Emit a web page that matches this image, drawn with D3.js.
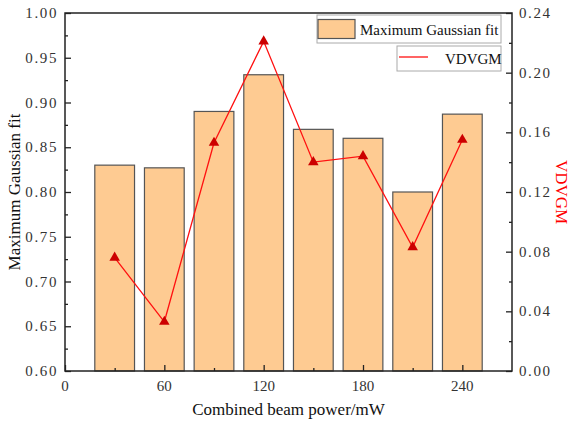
<!DOCTYPE html>
<html>
<head>
<meta charset="utf-8">
<script src="https://cdn.jsdelivr.net/npm/d3@7"></script>
<style>
  body { margin: 0; background: #fff; }
</style>
</head>
<body>
<svg id="chart" width="570" height="422"></svg>
<script>
// data
const power = [30, 60, 90, 120, 150, 180, 210, 240];
const gaussFit = [0.830, 0.827, 0.890, 0.931, 0.870, 0.860, 0.800, 0.887];
const vdvgm = [0.076, 0.033, 0.153, 0.221, 0.140, 0.144, 0.083, 0.155];
const xTicks = [0, 60, 120, 180, 240];
const leftTicks = [0.60, 0.65, 0.70, 0.75, 0.80, 0.85, 0.90, 0.95, 1.00];
const rightTicks = [0.00, 0.04, 0.08, 0.12, 0.16, 0.20, 0.24];

const svg = d3.select("#chart");
const serif = '"Liberation Serif", "Times New Roman", serif';
const pLeft = 65, pRight = 512, pTop = 13, pBottom = 371;
const barW = 24;
const barFill = "#fecb92", barStroke = "#555";

const x = d3.scaleLinear().domain([0, 270]).range([pLeft, pRight]);
const yL = d3.scaleLinear().domain([0.6, 1.0]).range([pBottom, pTop]);
const yR = d3.scaleLinear().domain([0, 0.24]).range([pBottom, pTop]);

// bars
svg.append("g")
  .selectAll("rect")
  .data(power)
  .join("rect")
  .attr("x", (d) => x(d - barW / 2))
  .attr("y", (d, i) => yL(gaussFit[i]))
  .attr("width", (d) => x(d + barW / 2) - x(d - barW / 2))
  .attr("height", (d, i) => pBottom - yL(gaussFit[i]))
  .attr("fill", barFill)
  .attr("stroke", barStroke)
  .attr("stroke-width", 1.2);

// axes (ticks point inward)
const fmt = d3.format(".2f");
const tickStyle = (g) => {
  g.select(".domain").remove();
  g.selectAll("line").attr("stroke", "#222").attr("stroke-width", 1.3);
};

// minor ticks
svg.append("g")
  .attr("transform", `translate(${pLeft},0)`)
  .call(d3.axisRight(yL).tickValues(d3.range(0.625, 1.0, 0.05)).tickSize(3).tickFormat(""))
  .call(tickStyle);
svg.append("g")
  .attr("transform", `translate(${pRight},0)`)
  .call(d3.axisLeft(yR).tickValues(d3.range(0.02, 0.24, 0.04)).tickSize(3).tickFormat(""))
  .call(tickStyle);
svg.append("g")
  .attr("transform", `translate(0,${pBottom})`)
  .call(d3.axisTop(x).tickValues([30, 90, 150, 210]).tickSize(3).tickFormat(""))
  .call(tickStyle);

// major ticks
svg.append("g")
  .attr("transform", `translate(${pLeft},0)`)
  .call(d3.axisRight(yL).tickValues(leftTicks).tickSize(6).tickFormat(""))
  .call(tickStyle);
svg.append("g")
  .attr("transform", `translate(${pRight},0)`)
  .call(d3.axisLeft(yR).tickValues(rightTicks).tickSize(6).tickFormat(""))
  .call(tickStyle);
svg.append("g")
  .attr("transform", `translate(0,${pBottom})`)
  .call(d3.axisTop(x).tickValues(xTicks).tickSize(6).tickFormat(""))
  .call(tickStyle);

// tick labels
svg.append("g")
  .selectAll("text")
  .data(leftTicks)
  .join("text")
  .attr("x", pLeft - 7)
  .attr("y", (d) => yL(d) + 5)
  .attr("text-anchor", "end")
  .style("font-family", serif)
  .style("font-size", "15px")
  .style("letter-spacing", "1.6px")
  .attr("fill", "#333")
  .text(fmt);
svg.append("g")
  .selectAll("text")
  .data(rightTicks)
  .join("text")
  .attr("x", pRight + 7)
  .attr("y", (d) => yR(d) + 5)
  .style("font-family", serif)
  .style("font-size", "15px")
  .style("letter-spacing", "1.6px")
  .attr("fill", "#333")
  .text(fmt);
svg.append("g")
  .selectAll("text")
  .data(xTicks)
  .join("text")
  .attr("x", (d) => x(d))
  .attr("y", pBottom + 20)
  .attr("text-anchor", "middle")
  .style("font-family", serif)
  .style("font-size", "15px")
  .attr("fill", "#333")
  .text((d) => d);

// frame
svg.append("rect")
  .attr("x", pLeft).attr("y", pTop)
  .attr("width", pRight - pLeft).attr("height", pBottom - pTop)
  .attr("fill", "none")
  .attr("stroke", "#222")
  .attr("stroke-width", 1.5);

// line + markers
const line = d3.line()
  .x((d, i) => x(power[i]))
  .y((d) => yR(d));
svg.append("path")
  .datum(vdvgm)
  .attr("d", line)
  .attr("fill", "none")
  .attr("stroke", "#ff1010")
  .attr("stroke-width", 1.3);
svg.append("g")
  .selectAll("path")
  .data(vdvgm)
  .join("path")
  .attr("transform", (d, i) => `translate(${x(power[i])},${yR(d)})`)
  .attr("d", d3.symbol(d3.symbolTriangle, 48))
  .attr("fill", "#cc0000");

// axis titles
svg.append("text")
  .attr("transform", `translate(20,${(pTop + pBottom) / 2}) rotate(-90)`)
  .attr("text-anchor", "middle")
  .style("font-family", serif)
  .style("font-size", "17px")
  .attr("fill", "#111")
  .text("Maximum Gaussian fit");
svg.append("text")
  .attr("transform", `translate(556,${(pTop + pBottom) / 2}) rotate(90)`)
  .attr("text-anchor", "middle")
  .style("font-family", serif)
  .style("font-size", "17px")
  .attr("fill", "#ff0000")
  .text("VDVGM");
svg.append("text")
  .attr("x", (pLeft + pRight) / 2)
  .attr("y", 415)
  .attr("text-anchor", "middle")
  .style("font-family", serif)
  .style("font-size", "17px")
  .attr("fill", "#111")
  .text("Combined beam power/mW");

// legend
const leg = svg.append("g");
leg.append("rect")
  .attr("x", 317).attr("y", 15).attr("width", 184).attr("height", 28)
  .attr("fill", "#fff").attr("stroke", "#aaa");
leg.append("rect")
  .attr("x", 318).attr("y", 19.5).attr("width", 37).attr("height", 19)
  .attr("fill", barFill).attr("stroke", barStroke).attr("stroke-width", 1.2);
leg.append("text")
  .attr("x", 360).attr("y", 35)
  .style("font-family", serif)
  .style("font-size", "15px")
  .attr("fill", "#111")
  .text("Maximum Gaussian fit");
leg.append("rect")
  .attr("x", 397).attr("y", 46).attr("width", 104).attr("height", 25)
  .attr("fill", "#fff").attr("stroke", "#aaa");
leg.append("line")
  .attr("x1", 399).attr("x2", 428).attr("y1", 57).attr("y2", 57)
  .attr("stroke", "#ff1010").attr("stroke-width", 1.3);
leg.append("text")
  .attr("x", 445).attr("y", 64)
  .style("font-family", serif)
  .style("font-size", "15px")
  .attr("fill", "#111")
  .text("VDVGM");
</script>
</body>
</html>
